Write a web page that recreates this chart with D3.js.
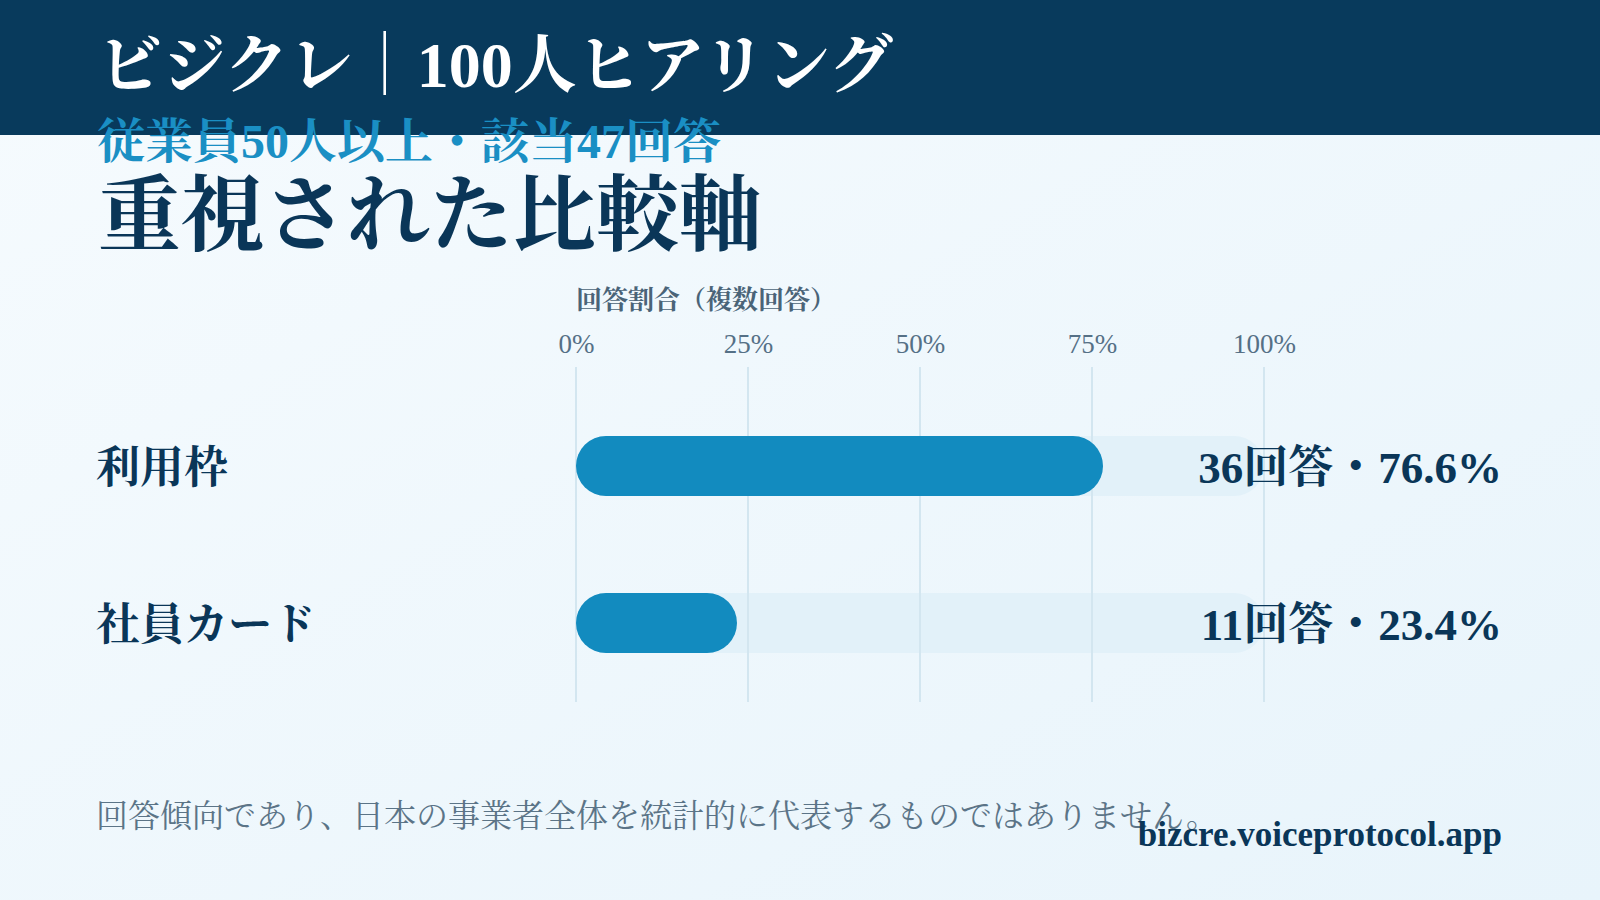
<!DOCTYPE html>
<html lang="ja">
<head>
<meta charset="utf-8">
<script src="https://cdn.jsdelivr.net/npm/d3@7"></script>
<style>
  html, body { margin: 0; padding: 0; background: #f2f8fc; }
  svg { display: block; }
  text { font-family: "Liberation Serif", "Noto Serif CJK JP", serif; }
</style>
</head>
<body>
<svg id="chart" width="1600" height="900"></svg>
<script>
// chart values
const categories = ["利用枠", "社員カード"];
const counts = [36, 11];
const percents = [76.6, 23.4];
const tickValues = [0, 25, 50, 75, 100];
const tickLabels = ["0%", "25%", "50%", "75%", "100%"];

const headerTitle = "ビジクレ｜100人ヒアリング";
const subTitle = "従業員50人以上・該当47回答";
const mainTitle = "重視された比較軸";
const axisTitle = "回答割合（複数回答）";
const footNote = "回答傾向であり、日本の事業者全体を統計的に代表するものではありません。";
const siteUrl = "bizcre.voiceprotocol.app";

const navy = "#0a3658";
const blue = "#128bbf";
const fontStack = "\"Liberation Serif\", \"Noto Serif CJK JP\", serif";

const svg = d3.select("#chart");
const W = 1600, H = 900;

// background
const defs = svg.append("defs");
const grad = defs.append("linearGradient")
    .attr("id", "bg").attr("x1", "0").attr("y1", "0").attr("x2", "1").attr("y2", "1");
grad.append("stop").attr("offset", "0%").attr("stop-color", "#f6fbfe");
grad.append("stop").attr("offset", "100%").attr("stop-color", "#e8f4fb");
svg.append("rect").attr("width", W).attr("height", H).attr("fill", "url(#bg)");

// header band
svg.append("rect").attr("width", W).attr("height", 135).attr("fill", "#083a5c");
svg.append("text").attr("x", 98).attr("y", 87)
    .attr("fill", "#ffffff").attr("font-size", 64).attr("font-weight", 700)
    .text(headerTitle);
svg.append("text").attr("x", 97).attr("y", 158)
    .attr("fill", "#1a8fc4").attr("font-size", 48).attr("font-weight", 700)
    .text(subTitle);
svg.append("text").attr("x", 98).attr("y", 244)
    .attr("fill", navy).attr("font-size", 83).attr("font-weight", 700)
    .text(mainTitle);

// scales
const x = d3.scaleLinear().domain([0, 100]).range([576, 1264]);
const y = d3.scalePoint().domain(categories).range([466, 623]);
const barH = 60;
const gridTop = 367, gridBottom = 702;

const chart = svg.append("g");

chart.append("text").attr("x", x(0)).attr("y", 309)
    .attr("fill", "#4a6478").attr("font-size", 26).attr("font-weight", 700)
    .text(axisTitle);

// top axis labels
const axis = d3.axisTop(x).tickValues(tickValues)
    .tickFormat((d, i) => tickLabels[i]).tickSize(0).tickPadding(0);
const axisG = chart.append("g").attr("transform", "translate(0,353)").call(axis);
axisG.select(".domain").remove();
axisG.selectAll("text")
    .attr("fill", "#557086").attr("font-size", 27).attr("font-weight", 400)
    .attr("font-family", fontStack)
    .attr("dy", 0);

const rows = categories.map((c, i) => ({ cat: c, count: counts[i], pct: percents[i] }));

// tracks
chart.selectAll(".track").data(rows).enter().append("rect")
    .attr("class", "track")
    .attr("x", x(0)).attr("y", d => y(d.cat) - barH / 2)
    .attr("width", x(100) - x(0)).attr("height", barH)
    .attr("rx", barH / 2)
    .attr("fill", "#e2f1f9");

// gridlines
chart.selectAll(".grid").data(tickValues).enter().append("line")
    .attr("class", "grid")
    .attr("x1", d => x(d)).attr("x2", d => x(d))
    .attr("y1", gridTop).attr("y2", gridBottom)
    .attr("stroke", "#d3e6f0").attr("stroke-width", 2);

// value bars
chart.selectAll(".bar").data(rows).enter().append("rect")
    .attr("class", "bar")
    .attr("x", x(0)).attr("y", d => y(d.cat) - barH / 2)
    .attr("width", d => x(d.pct) - x(0)).attr("height", barH)
    .attr("rx", barH / 2)
    .attr("fill", blue);

// category labels
chart.selectAll(".cat").data(rows).enter().append("text")
    .attr("class", "cat")
    .attr("x", 96).attr("y", d => y(d.cat) + 2)
    .attr("dominant-baseline", "central")
    .attr("fill", navy).attr("font-size", 44).attr("font-weight", 700)
    .text(d => d.cat);

// value labels
chart.selectAll(".val").data(rows).enter().append("text")
    .attr("class", "val")
    .attr("x", 1502).attr("y", d => y(d.cat) + 2)
    .attr("dominant-baseline", "central")
    .attr("text-anchor", "end")
    .attr("fill", navy).attr("font-size", 45).attr("font-weight", 700)
    .text(d => d.count + "回答・" + d.pct.toFixed(1) + "%");

// footer
svg.append("text").attr("x", 96).attr("y", 827)
    .attr("fill", "#5b7487").attr("font-size", 32).attr("font-weight", 400)
    .text(footNote);
svg.append("text").attr("x", 1502).attr("y", 846)
    .attr("text-anchor", "end")
    .attr("fill", navy).attr("font-size", 35).attr("font-weight", 700)
    .text(siteUrl);
</script>
</body>
</html>
